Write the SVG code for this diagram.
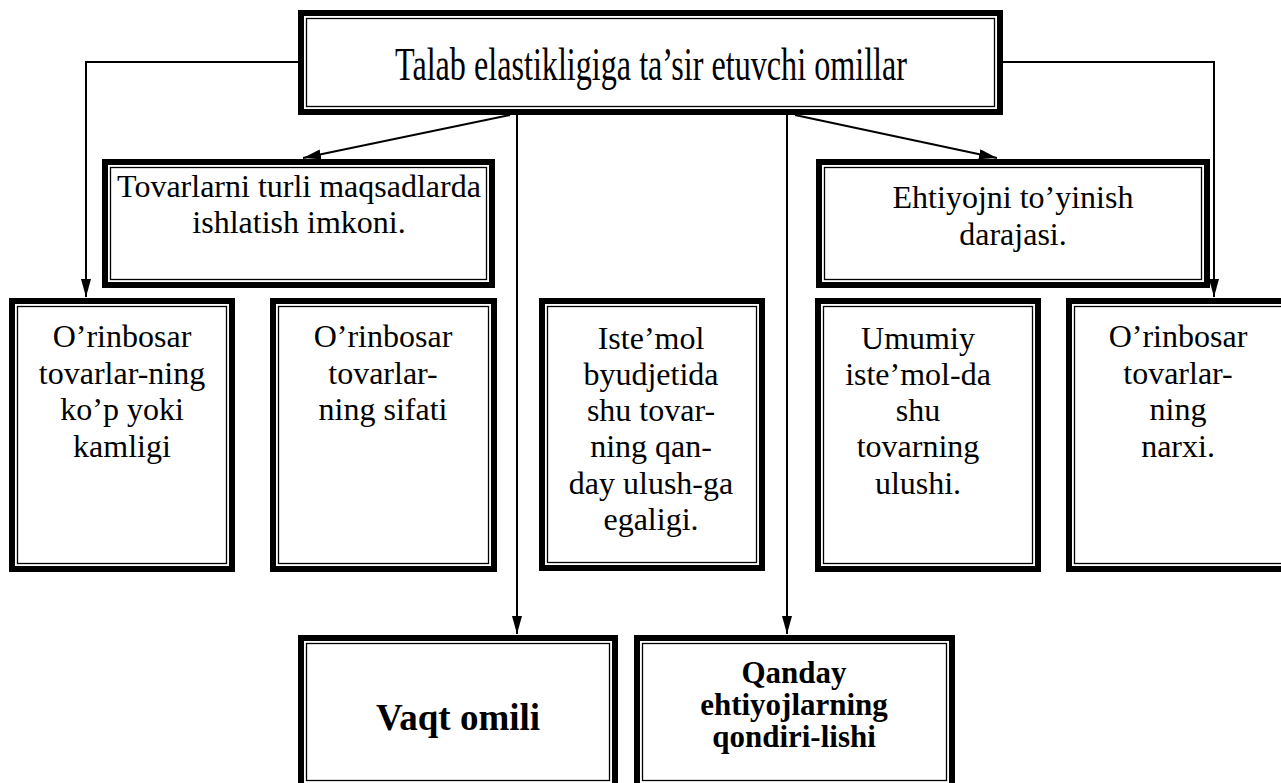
<svg xmlns="http://www.w3.org/2000/svg" width="1281" height="783" viewBox="0 0 1281 783">
<style>
.outer{fill:#fff;stroke:#000;stroke-width:6}
.inner{fill:none;stroke:#000;stroke-width:1.3}
.t{font-family:"Liberation Serif","Times New Roman",serif;font-size:32px;fill:#000;text-anchor:middle}
.b{font-family:"Liberation Serif","Times New Roman",serif;font-weight:bold;fill:#000;text-anchor:middle}
.c{fill:none;stroke:#000;stroke-width:2}
</style>
<defs>
<marker id="arr" markerUnits="userSpaceOnUse" markerWidth="18" markerHeight="10" refX="18" refY="5" orient="auto">
<path d="M0,0 L18,5 L0,10 z" fill="#000"/>
</marker>
</defs>
<rect width="1281" height="783" fill="#fff"/>
<g id="connectors">
<polyline class="c" points="298,62 86,62 86,297" marker-end="url(#arr)"/>
<polyline class="c" points="1003,62 1214,62 1214,297" marker-end="url(#arr)"/>
<line class="c" x1="510" y1="115" x2="303" y2="158" marker-end="url(#arr)"/>
<line class="c" x1="795" y1="115" x2="997" y2="158" marker-end="url(#arr)"/>
<line class="c" x1="517" y1="115" x2="517" y2="634" marker-end="url(#arr)"/>
<line class="c" x1="787" y1="115" x2="787" y2="634" marker-end="url(#arr)"/>
</g>
<g id="top">
<rect class="outer" x="301" y="13" width="699" height="99"/>
<rect class="inner" x="306.5" y="18.5" width="688" height="88"/>
<text x="395" y="80" font-family="Liberation Serif, Times New Roman, serif" font-size="46" textLength="512" lengthAdjust="spacingAndGlyphs">Talab elastikligiga ta’sir etuvchi omillar</text>
</g>
<g id="n-tovarlarni">
<rect class="outer" x="105" y="162" width="387" height="123"/>
<rect class="inner" x="110.5" y="167.5" width="376" height="112"/>
<text class="t" x="299" y="197">Tovarlarni turli maqsadlarda</text>
<text class="t" x="299" y="233">ishlatish imkoni.</text>
</g>
<g id="n-ehtiyojni">
<rect class="outer" x="819" y="162" width="388" height="123"/>
<rect class="inner" x="824.5" y="167.5" width="377" height="112"/>
<text class="t" x="1013" y="208">Ehtiyojni to’yinish</text>
<text class="t" x="1013" y="245">darajasi.</text>
</g>
<g id="n-box1">
<rect class="outer" x="12" y="301" width="220" height="268"/>
<rect class="inner" x="17.5" y="306.5" width="209" height="257"/>
<text class="t" x="122" y="347">O’rinbosar</text>
<text class="t" x="122" y="384">tovarlar-ning</text>
<text class="t" x="122" y="420">ko’p yoki</text>
<text class="t" x="122" y="457">kamligi</text>
</g>
<g id="n-box2">
<rect class="outer" x="273" y="301" width="221" height="268"/>
<rect class="inner" x="278.5" y="306.5" width="210" height="257"/>
<text class="t" x="383" y="347">O’rinbosar</text>
<text class="t" x="383" y="384">tovarlar-</text>
<text class="t" x="383" y="420">ning sifati</text>
</g>
<g id="n-box3">
<rect class="outer" x="542" y="301" width="220" height="267"/>
<rect class="inner" x="547.5" y="306.5" width="209" height="256"/>
<text class="t" x="651" y="349">Iste’mol</text>
<text class="t" x="651" y="385">byudjetida</text>
<text class="t" x="651" y="421">shu tovar-</text>
<text class="t" x="651" y="457">ning qan-</text>
<text class="t" x="651" y="494">day ulush-ga</text>
<text class="t" x="651" y="530">egaligi.</text>
</g>
<g id="n-box4">
<rect class="outer" x="818" y="301" width="220" height="268"/>
<rect class="inner" x="823.5" y="306.5" width="209" height="257"/>
<text class="t" x="918" y="349">Umumiy</text>
<text class="t" x="918" y="385">iste’mol-da</text>
<text class="t" x="918" y="421">shu</text>
<text class="t" x="918" y="457">tovarning</text>
<text class="t" x="918" y="494">ulushi.</text>
</g>
<g id="n-box5">
<rect class="outer" x="1069" y="301" width="220" height="268"/>
<rect class="inner" x="1074.5" y="306.5" width="209" height="257"/>
<text class="t" x="1178" y="347">O’rinbosar</text>
<text class="t" x="1178" y="384">tovarlar-</text>
<text class="t" x="1178" y="420">ning</text>
<text class="t" x="1178" y="457">narxi.</text>
</g>
<g id="n-vaqt">
<rect class="outer" x="301" y="638" width="314" height="148"/>
<rect class="inner" x="306.5" y="643.5" width="303" height="137"/>
<text class="b" x="458" y="730" font-size="37">Vaqt omili</text>
</g>
<g id="n-qanday">
<rect class="outer" x="637" y="638" width="315" height="148"/>
<rect class="inner" x="642.5" y="643.5" width="304" height="137"/>
<text class="b" x="794" y="683" font-size="31">Qanday</text>
<text class="b" x="794" y="715" font-size="31">ehtiyojlarning</text>
<text class="b" x="794" y="747" font-size="31">qondiri-lishi</text>
</g>
</svg>
